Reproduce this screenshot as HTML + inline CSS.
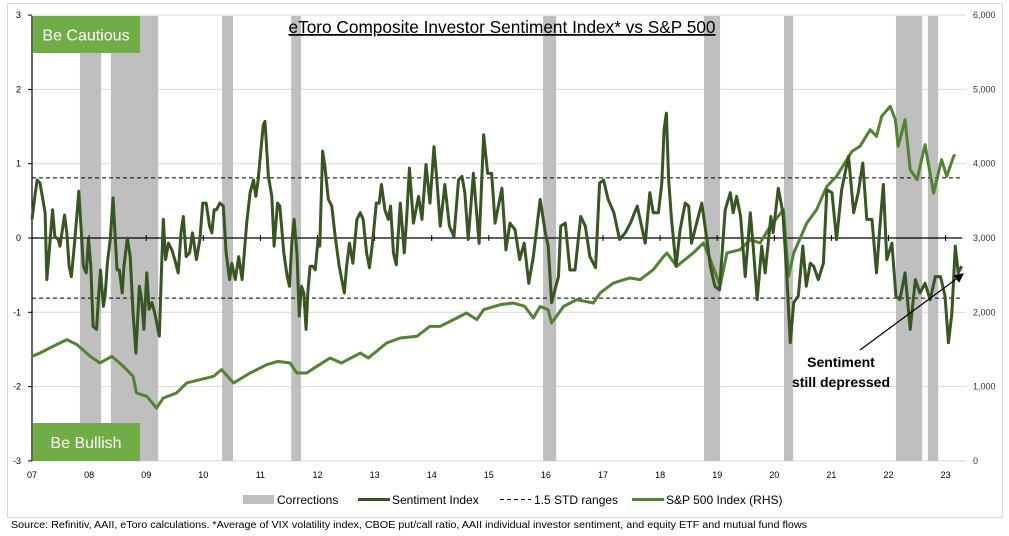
<!DOCTYPE html>
<html><head><meta charset="utf-8">
<style>
body{margin:0;background:#fff;width:1009px;height:536px;overflow:hidden;font-family:"Liberation Sans",sans-serif;}
svg{position:absolute;left:0;top:0;}
</style></head>
<body>
<svg id="chart" width="1009" height="536" xmlns="http://www.w3.org/2000/svg"></svg>
<script>
// ---- data (t = years since 2007) ----
const yearLabels=["07","08","09","10","11","12","13","14","15","16","17","18","19","20","21","22","23"];
const leftTicks=[3,2,1,0,-1,-2,-3];
const rightTicks=["6,000","5,000","4,000","3,000","2,000","1,000","0"];
const corrStart=[0.84,1.38,3.33,4.54,8.95,11.77,13.17,15.13,15.69];
const corrEnd=[1.21,2.21,3.52,4.71,9.18,12.05,13.33,15.59,15.87];
const stdBand=0.81;
const sentT=[0,.05,.09,.14,.19,.23,.26,.30,.36,.40,.46,.49,.57,.61,.65,.69,.74,.78,.82,.85,.90,.95,.99,1.03,1.07,1.13,1.17,1.20,1.25,1.28,1.32,1.37,1.42,1.45,1.49,1.53,1.58,1.61,1.67,1.72,1.77,1.82,1.88,1.92,1.96,2.01,2.05,2.10,2.15,2.23,2.27,2.30,2.34,2.39,2.45,2.50,2.56,2.61,2.65,2.70,2.76,2.81,2.88,2.94,2.99,3.05,3.11,3.15,3.19,3.23,3.29,3.35,3.40,3.46,3.50,3.56,3.62,3.68,3.76,3.82,3.88,3.92,3.96,4.05,4.08,4.14,4.20,4.24,4.30,4.34,4.41,4.47,4.51,4.55,4.59,4.64,4.68,4.72,4.76,4.80,4.83,4.87,4.92,4.96,5.01,5.04,5.09,5.13,5.19,5.25,5.31,5.38,5.47,5.51,5.56,5.62,5.69,5.75,5.80,5.86,5.91,5.97,6.03,6.08,6.12,6.18,6.24,6.28,6.33,6.38,6.45,6.52,6.56,6.61,6.68,6.77,6.83,6.90,6.97,7.04,7.09,7.15,7.23,7.31,7.39,7.47,7.53,7.58,7.64,7.73,7.83,7.91,7.98,8.05,8.11,8.23,8.30,8.37,8.46,8.54,8.62,8.70,8.78,8.90,8.99,9.04,9.10,9.22,9.26,9.34,9.42,9.51,9.61,9.69,9.77,9.87,9.94,10.01,10.09,10.19,10.29,10.39,10.48,10.60,10.74,10.82,10.88,10.97,11.03,11.07,11.11,11.15,11.20,11.28,11.35,11.44,11.50,11.55,11.64,11.73,11.82,11.88,11.96,12.04,12.14,12.23,12.28,12.34,12.41,12.49,12.58,12.63,12.70,12.78,12.84,12.94,12.98,13.07,13.15,13.21,13.28,13.34,13.42,13.50,13.56,13.63,13.69,13.77,13.86,13.92,14.01,14.09,14.18,14.30,14.39,14.47,14.55,14.62,14.71,14.79,14.85,14.91,14.97,15.06,15.13,15.20,15.29,15.38,15.47,15.55,15.64,15.73,15.82,15.91,15.99,16.05,16.11,16.17,16.22,16.28];
const sentV=[.25,.56,.78,.74,.52,.34,-.56,-.2,.38,.02,-.02,-.11,.31,.07,-.38,-.52,-.11,.25,.63,.25,-.38,-.47,-.02,-.38,-1.19,-1.23,-.74,-.43,-.92,-.78,-.34,-.02,.54,.11,-.43,-.43,-.74,-.38,0,-.25,-1.01,-1.55,-.65,-.83,-1.23,-.47,-.96,-.87,-1.01,-1.32,-.38,.25,-.29,-.07,-.16,-.29,-.47,.07,.29,-.25,-.2,.07,-.29,-.02,.47,.47,.16,.07,.38,.38,.47,.43,-.2,-.56,-.34,-.56,-.25,-.56,.2,.61,.78,.56,.78,1.52,1.57,.83,.56,-.11,.47,.43,-.2,-.52,-.65,-.07,.25,-.2,-1.05,-.65,-.74,-1.23,-.74,-.38,-.38,-.43,-.02,-.11,1.17,.96,.52,.43,.02,-.38,-.74,-.38,-.07,-.34,.25,.34,.25,-.2,-.4,-.02,.47,.47,.72,.38,.25,.43,-.2,-.36,.47,-.2,.25,.94,.2,.56,.25,.99,.47,1.23,.78,.16,.72,.16,.02,.78,.83,.61,-.02,.87,-.07,1.39,.87,.87,.2,.67,-.16,.2,.11,-.29,-.07,-.61,-.25,.52,.07,-.11,-.87,-.52,.16,.2,-.43,-.43,.29,.16,-.25,-.4,.74,.78,.52,.34,-.02,.07,.2,.43,-.07,.61,.34,.34,.74,1.46,1.68,.78,.25,-.38,.11,.47,.43,-.07,.2,.47,-.02,-.38,-.65,-.70,.38,.61,.34,.56,.29,-.52,.34,-.11,-.83,-.11,-.47,.29,.07,.67,.34,-.38,-1.41,-.87,-.78,-.11,-.65,-.34,-.38,-.56,-.34,.65,.61,-.02,.65,1.10,.34,.61,1.01,.25,.25,-.47,.16,.72,-.29,-.07,-.78,-.83,-.47,-1.23,-.56,-.74,-.61,-.83,-.52,-.52,-.78,-1.41,-1.01,-.11,-.47,-.38];
const spT=[0,.14,.37,.61,.79,1.02,1.19,1.40,1.60,1.77,1.83,2.01,2.18,2.30,2.53,2.71,2.94,3.18,3.32,3.53,3.82,4.11,4.31,4.52,4.64,4.81,4.99,5.22,5.42,5.75,5.89,6.21,6.45,6.74,6.97,7.15,7.44,7.61,7.79,7.91,8.20,8.43,8.63,8.78,8.90,9.04,9.10,9.31,9.54,9.83,9.95,10.18,10.47,10.65,10.88,11.06,11.12,11.29,11.58,11.76,11.88,11.99,12.05,12.17,12.40,12.58,12.75,12.93,13.16,13.25,13.34,13.57,13.74,13.92,14.09,14.27,14.36,14.50,14.68,14.79,14.88,15.03,15.12,15.17,15.29,15.38,15.50,15.64,15.79,15.93,16.02,16.14,16.17];
const spV=[1407,1452,1542,1632,1564,1407,1318,1407,1273,1138,914,869,712,847,914,1049,1093,1138,1228,1049,1183,1295,1340,1318,1183,1183,1273,1385,1318,1452,1385,1587,1654,1677,1811,1811,1923,1991,1901,2035,2103,2125,2080,1923,2080,2035,1856,2080,2170,2125,2260,2394,2462,2439,2574,2750,2798,2619,2798,2933,2708,2484,2350,2798,2843,2978,2933,3157,3381,2484,2798,3202,3381,3695,3830,4054,4166,4234,4458,4368,4637,4772,4593,4234,4593,3920,3785,4256,3606,4054,3830,4099,4121];

const NS="http://www.w3.org/2000/svg";
const svg=document.getElementById('chart');
const X0=32,YW=57.1,Y0=238,YU=74.3,PT=16,PB=461,PR=962;
const xs=t=>X0+t*YW;
const yl=v=>Y0-v*YU;
const yr=v=>Y0-(v-3000)*0.0743;
function mk(tag,attrs,parent){const e=document.createElementNS(NS,tag);for(const k in attrs)e.setAttribute(k,attrs[k]);(parent||svg).appendChild(e);return e;}

let f=mk('rect',{x:7.5,y:3.5,width:995,height:514,fill:'#fff',stroke:'#d9d9d9'});


leftTicks.forEach(v=>{const g=mk('line',{x1:X0,x2:PR,y1:yl(v),y2:yl(v),stroke:'#d9d9d9','stroke-width':1});

});
corrStart.forEach((s,i)=>{const r=mk('rect',{x:xs(s),y:PT,width:xs(corrEnd[i])-xs(s),height:PB-PT,fill:'#bfbfbf'});

});
function box(y,h,label,name){const g=mk('g',{});


mk('rect',{x:33,y:y,width:107,height:h,fill:'#70ad47'},g);
const t=mk('text',{x:86,y:y+h/2+6,'text-anchor':'middle',fill:'#fff','font-size':16},g);t.textContent=label;}
box(16,37,'Be Cautious','be-cautious-box');
box(423,38,'Be Bullish','be-bullish-box');
let z=mk('line',{x1:X0,x2:PR,y1:Y0,y2:Y0,stroke:'#000','stroke-width':1.2});


[stdBand,-stdBand].forEach(v=>{const d=mk('line',{x1:X0,x2:PR,y1:yl(v),y2:yl(v),stroke:'#000','stroke-width':1,'stroke-dasharray':'4,3'});

});
let ax=mk('line',{x1:X0,x2:X0,y1:PT,y2:PB,stroke:'#000','stroke-width':1.2});


leftTicks.forEach(v=>{mk('line',{x1:X0-4,x2:X0,y1:yl(v),y2:yl(v),stroke:'#000'});
const t=mk('text',{x:21,y:yl(v)+3,'text-anchor':'end','font-size':9,fill:'#000'});t.textContent=v;

});
rightTicks.forEach((s,i)=>{const y=yr(6000-i*1000);mk('line',{x1:PR,x2:PR+4,y1:y,y2:y,stroke:'#d9d9d9'});
const t=mk('text',{x:973,y:y+3,'font-size':9,fill:'#333'});t.textContent=s;

});
yearLabels.forEach((s,i)=>{const x=xs(i);mk('line',{x1:x,x2:x,y1:Y0-3,y2:Y0+3,stroke:'#000'});
const t=mk('text',{x:x,y:478,'text-anchor':'middle','font-size':9,fill:'#000'});t.textContent=s;

});
let sp=mk('polyline',{points:spT.map((t,i)=>xs(t)+','+yr(spV[i])).join(' '),fill:'none',stroke:'#548235','stroke-width':3,'stroke-linejoin':'round'});


let se=mk('polyline',{points:sentT.map((t,i)=>xs(t)+','+yl(sentV[i])).join(' '),fill:'none',stroke:'#375623','stroke-width':3,'stroke-linejoin':'round'});


let ti=mk('text',{x:502,y:33,'text-anchor':'middle','font-size':17.5,fill:'#000','text-decoration':'underline',textLength:427,lengthAdjust:'spacingAndGlyphs'});
ti.textContent='eToro Composite Investor Sentiment Index* vs S&P 500';


mk('defs',{}).innerHTML='<marker id="ah" markerWidth="8" markerHeight="8" refX="7" refY="4" orient="auto"><path d="M0,0 L8,4 L0,8 z" fill="#000"/></marker>';
let ar=mk('line',{x1:860,y1:350,x2:963,y2:274,stroke:'#000','stroke-width':1.2,'marker-end':'url(#ah)'});


let an=mk('text',{x:841,y:367,'text-anchor':'middle','font-size':14,'font-weight':'bold',fill:'#000'});
an.innerHTML='<tspan x="841">Sentiment</tspan><tspan x="841" dy="20">still depressed</tspan>';


function leg(x,kind,label,name){const g=mk('g',{});


if(kind==='rect')mk('rect',{x:x,y:495,width:31,height:9,fill:'#bfbfbf'},g);
else if(kind==='dash')mk('line',{x1:x,x2:x+31,y1:499.5,y2:499.5,stroke:'#000','stroke-dasharray':'4,3'},g);
else mk('line',{x1:x,x2:x+32,y1:499.5,y2:499.5,stroke:kind,'stroke-width':3},g);
const t=mk('text',{x:x+34,y:504,'font-size':12,fill:'#000'},g);t.textContent=label;}
leg(243,'rect','Corrections','legend-corrections');
leg(358,'#375623','Sentiment Index','legend-sentiment');
leg(500,'dash','1.5 STD ranges','legend-std');
leg(632,'#548235','S&P 500 Index (RHS)','legend-sp500');
let so=mk('text',{x:11,y:528,'font-size':10,fill:'#000',textLength:796,lengthAdjust:'spacingAndGlyphs'});
so.textContent='Source: Refinitiv, AAII, eToro calculations. *Average of VIX volatility index, CBOE put/call ratio, AAII individual investor sentiment, and equity ETF and mutual fund flows';


</script>
</body></html>
